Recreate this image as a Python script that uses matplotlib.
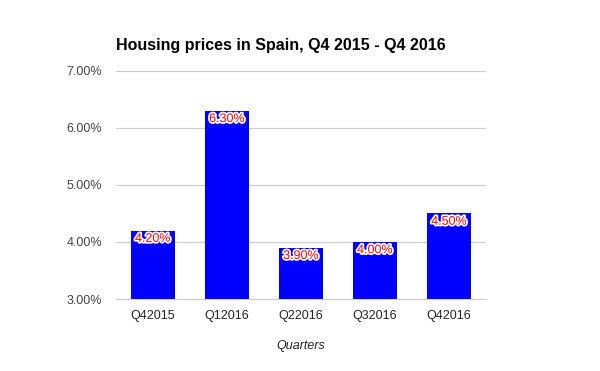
import matplotlib.pyplot as plt
import matplotlib.patheffects as pe
from matplotlib.ticker import FuncFormatter

# chart data
quarters = ["Q42015", "Q12016", "Q22016", "Q32016", "Q42016"]
prices = [4.20, 6.30, 3.90, 4.00, 4.50]
yticks = [3.0, 4.0, 5.0, 6.0, 7.0]

plt.rcParams["font.family"] = ["Liberation Sans", "DejaVu Sans"]

fig = plt.figure(figsize=(6, 3.71), dpi=100)
ax = fig.add_axes([0.193, 0.194, 0.617, 0.615])

x = range(len(quarters))
bars = ax.bar(x, prices, width=0.6, color="#0000ff", zorder=3)

for xi, v in zip(x, prices):
    ax.text(xi, v - 0.04, "%.2f%%" % v, ha="center", va="top",
            color="#ff0000", fontsize=9, zorder=4,
            path_effects=[pe.withStroke(linewidth=2.5, foreground="white")])

ax.set_xlim(-0.5, len(quarters) - 0.5)
ax.set_ylim(3.0, 7.0)
ax.set_yticks(yticks)
ax.yaxis.set_major_formatter(FuncFormatter(lambda v, p: "%.2f%%" % v))
ax.set_xticks(list(x))
ax.set_xticklabels(quarters)
ax.grid(axis="y", color="#cccccc", linewidth=0.8, zorder=0)

for s in ["top", "right", "left"]:
    ax.spines[s].set_visible(False)
ax.spines["bottom"].set_color("#cccccc")

ax.tick_params(axis="y", length=0, labelsize=9, labelcolor="#444444", pad=10)
ax.tick_params(axis="x", length=0, labelsize=9, labelcolor="#222222", pad=8)

ax.set_xlabel("Quarters", fontstyle="italic", fontsize=9, color="#222222", labelpad=13)
fig.text(0.193, 0.878, "Housing prices in Spain, Q4 2015 - Q4 2016",
         fontsize=11.5, fontweight="bold", ha="left", va="center")

fig.savefig("out.png", dpi=100)
